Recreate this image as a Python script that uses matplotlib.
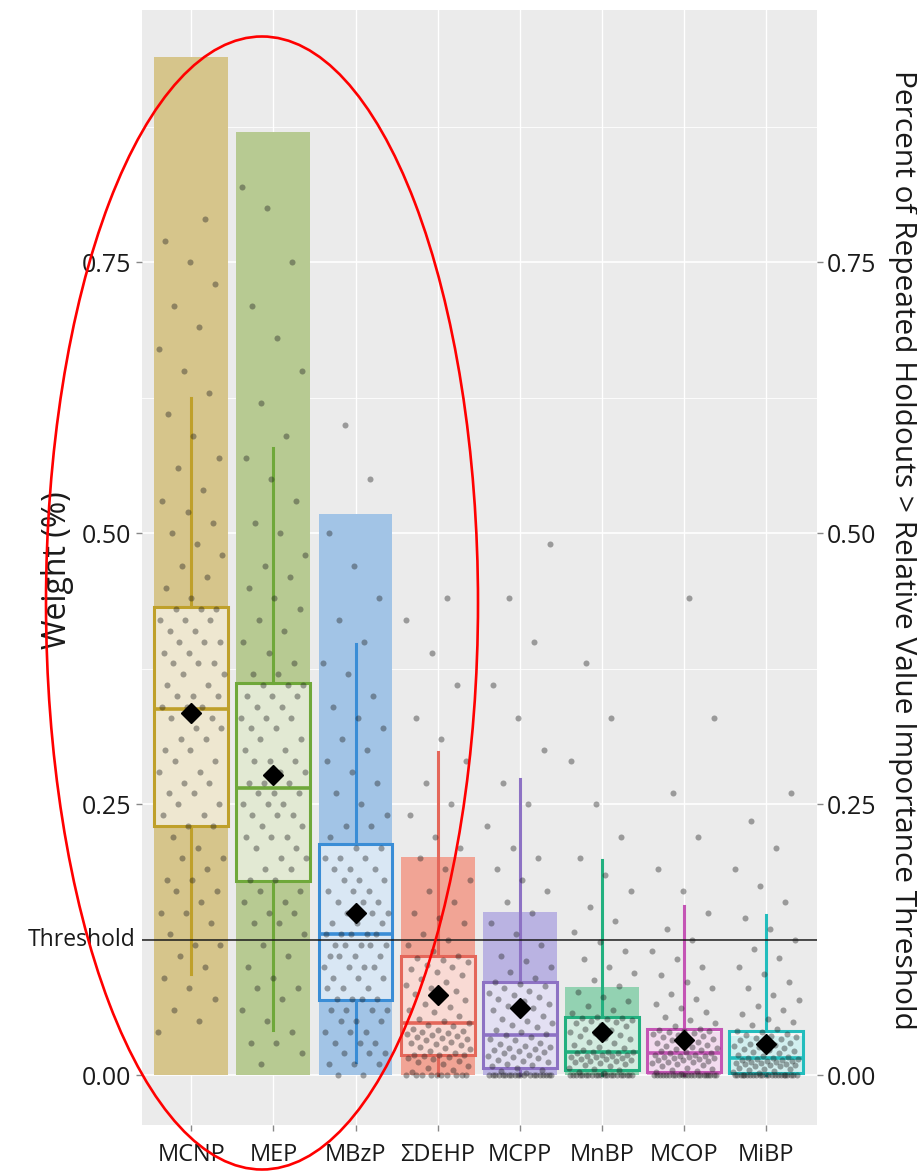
import matplotlib
matplotlib.use("Agg")
import matplotlib.pyplot as plt
import matplotlib.transforms as mtransforms
from matplotlib.patches import Ellipse
import numpy as np

# Categories and summary values
analytes = ["MCNP", "MEP", "MBzP", "ΣDEHP", "MCPP", "MnBP", "MCOP", "MiBP"]
pct_above = [0.94, 0.87, 0.518, 0.201, 0.151, 0.081, 0.040, 0.036]   # bars (right axis)
q1 = [0.230, 0.179, 0.069, 0.019, 0.007, 0.005, 0.003, 0.002]
median = [0.338, 0.265, 0.130, 0.048, 0.037, 0.021, 0.020, 0.016]
q3 = [0.432, 0.362, 0.213, 0.110, 0.086, 0.054, 0.043, 0.041]
whis_lo = [0.093, 0.042, 0.012, 0.0, 0.0, 0.0, 0.0, 0.0]
whis_hi = [0.625, 0.579, 0.398, 0.298, 0.273, 0.199, 0.156, 0.148]
mean = [0.334, 0.277, 0.150, 0.074, 0.062, 0.040, 0.032, 0.029]
threshold = 0.125

# holdout weights (a readable sample of the jittered points)
w_mcnp = [0.04, 0.05, 0.06, 0.07, 0.08, 0.09, 0.10, 0.11, 0.12, 0.12, 0.13, 0.14, 0.15, 0.15, 0.16, 0.17,
          0.17, 0.18, 0.18, 0.19, 0.20, 0.20, 0.21, 0.22, 0.23, 0.23, 0.24, 0.24, 0.25, 0.25, 0.26, 0.26,
          0.27, 0.27, 0.28, 0.28, 0.29, 0.29, 0.30, 0.30, 0.31, 0.31, 0.32, 0.32, 0.33, 0.33, 0.34, 0.34,
          0.34, 0.35, 0.35, 0.35, 0.36, 0.36, 0.37, 0.37, 0.38, 0.38, 0.38, 0.39, 0.39, 0.40, 0.40, 0.40,
          0.41, 0.41, 0.42, 0.42, 0.42, 0.43, 0.43, 0.43, 0.44, 0.45, 0.46, 0.47, 0.48, 0.49, 0.50, 0.51,
          0.52, 0.53, 0.54, 0.56, 0.57, 0.59, 0.61, 0.63, 0.65, 0.67, 0.69, 0.71, 0.73, 0.75, 0.77, 0.79]
w_mep = [0.01, 0.02, 0.03, 0.03, 0.04, 0.05, 0.06, 0.07, 0.08, 0.08, 0.09, 0.10, 0.11, 0.12, 0.13, 0.14,
         0.14, 0.15, 0.15, 0.16, 0.16, 0.17, 0.17, 0.18, 0.18, 0.19, 0.19, 0.20, 0.20, 0.21, 0.21, 0.22,
         0.22, 0.22, 0.23, 0.23, 0.24, 0.24, 0.24, 0.25, 0.25, 0.25, 0.26, 0.26, 0.26, 0.27, 0.27, 0.27,
         0.28, 0.28, 0.29, 0.29, 0.29, 0.30, 0.30, 0.31, 0.31, 0.32, 0.32, 0.33, 0.33, 0.33, 0.34, 0.34,
         0.35, 0.35, 0.35, 0.36, 0.36, 0.36, 0.37, 0.37, 0.38, 0.39, 0.40, 0.41, 0.42, 0.43, 0.44, 0.45,
         0.46, 0.47, 0.48, 0.50, 0.51, 0.53, 0.55, 0.57, 0.59, 0.62, 0.65, 0.68, 0.71, 0.75, 0.80, 0.82]
w_mbzp = [0.00, 0.00, 0.01, 0.01, 0.01, 0.02, 0.02, 0.02, 0.03, 0.03, 0.03, 0.04, 0.04, 0.04, 0.05, 0.05,
          0.05, 0.06, 0.06, 0.06, 0.06, 0.07, 0.07, 0.07, 0.07, 0.08, 0.08, 0.08, 0.09, 0.09, 0.09, 0.10,
          0.10, 0.10, 0.10, 0.11, 0.11, 0.11, 0.11, 0.12, 0.12, 0.12, 0.12, 0.12, 0.13, 0.13, 0.13, 0.13,
          0.13, 0.14, 0.14, 0.14, 0.15, 0.15, 0.15, 0.16, 0.16, 0.16, 0.17, 0.17, 0.17, 0.18, 0.18, 0.18,
          0.19, 0.19, 0.19, 0.20, 0.20, 0.20, 0.21, 0.21, 0.22, 0.23, 0.23, 0.24, 0.25, 0.26, 0.27, 0.28,
          0.29, 0.30, 0.31, 0.32, 0.33, 0.34, 0.35, 0.37, 0.38, 0.40, 0.42, 0.44, 0.47, 0.50, 0.55, 0.60]
w_dehp = [0.0] * 10 + [0.003, 0.005, 0.007, 0.008, 0.010, 0.012,
          0.013, 0.015, 0.016, 0.017, 0.018, 0.019, 0.019, 0.019, 0.020, 0.022, 0.024, 0.025, 0.026, 0.028, 0.029, 0.030,
          0.031, 0.032, 0.033, 0.034, 0.035, 0.036, 0.037, 0.038, 0.039, 0.040, 0.041, 0.042, 0.043, 0.045, 0.046, 0.048,
          0.050, 0.052, 0.055, 0.058, 0.060, 0.063, 0.066, 0.069, 0.072, 0.075, 0.078, 0.080, 0.083, 0.086, 0.089, 0.092,
          0.095, 0.098, 0.100, 0.102, 0.104, 0.106, 0.108, 0.110, 0.115, 0.120, 0.125, 0.130, 0.140, 0.145, 0.150, 0.160,
          0.17, 0.18, 0.19, 0.20, 0.21, 0.22, 0.24, 0.25, 0.27, 0.29, 0.31, 0.33, 0.36, 0.39, 0.42, 0.44]
w_mcpp = [0.0] * 20 + [0.002, 0.004, 0.005, 0.007,
          0.008, 0.009, 0.010, 0.012, 0.013, 0.014, 0.016, 0.017,
          0.018, 0.019, 0.020, 0.021, 0.022, 0.023, 0.024, 0.025, 0.026, 0.027, 0.029, 0.030, 0.032, 0.033, 0.035, 0.037,
          0.038, 0.040, 0.042, 0.044, 0.046, 0.048, 0.050, 0.052, 0.055, 0.058, 0.060, 0.062, 0.064, 0.066, 0.068, 0.070,
          0.072, 0.074, 0.076, 0.078, 0.080, 0.082, 0.084, 0.086, 0.090, 0.095, 0.100, 0.105, 0.110, 0.120, 0.130, 0.140,
          0.15, 0.16, 0.17, 0.18, 0.19, 0.20, 0.21, 0.23, 0.25, 0.27, 0.30, 0.33, 0.36, 0.40, 0.44, 0.49]
w_mnbp = [0.0] * 21 + [0.002, 0.003, 0.005,
          0.006, 0.007, 0.008, 0.009, 0.010, 0.011, 0.012, 0.013,
          0.013, 0.014, 0.015, 0.015, 0.016, 0.017, 0.017, 0.018, 0.018, 0.019, 0.019, 0.020, 0.020, 0.021, 0.021, 0.021,
          0.023, 0.025, 0.026, 0.028, 0.030, 0.031, 0.033, 0.034, 0.036, 0.037, 0.039, 0.040, 0.042, 0.043, 0.045, 0.046,
          0.048, 0.049, 0.050, 0.051, 0.052, 0.053, 0.053, 0.054, 0.057, 0.060, 0.064, 0.068, 0.072, 0.077, 0.082, 0.088,
          0.094, 0.100, 0.107, 0.115, 0.123, 0.132, 0.142, 0.155, 0.17, 0.185, 0.20, 0.22, 0.25, 0.29, 0.33, 0.38]
w_mcop = [0.0] * 22 + [0.001, 0.003,
          0.004, 0.005, 0.006, 0.007, 0.008, 0.009, 0.010, 0.011,
          0.012, 0.012, 0.013, 0.014, 0.014, 0.015, 0.016, 0.016, 0.017, 0.017, 0.018, 0.018, 0.019, 0.019, 0.020, 0.020,
          0.021, 0.022, 0.023, 0.024, 0.025, 0.026, 0.027, 0.028, 0.029, 0.030, 0.031, 0.032, 0.033, 0.034, 0.035, 0.036,
          0.037, 0.038, 0.039, 0.040, 0.041, 0.041, 0.042, 0.043, 0.045, 0.048, 0.051, 0.054, 0.058, 0.062, 0.066, 0.070,
          0.075, 0.080, 0.086, 0.092, 0.100, 0.107, 0.115, 0.125, 0.135, 0.15, 0.17, 0.19, 0.22, 0.26, 0.33, 0.44]
w_mibp = [0.0] * 23 + [0.002,
          0.003, 0.004, 0.005, 0.006, 0.006, 0.007, 0.008, 0.008,
          0.009, 0.009, 0.010, 0.010, 0.011, 0.011, 0.012, 0.012, 0.013, 0.013, 0.014, 0.014, 0.015, 0.015, 0.016, 0.016,
          0.017, 0.018, 0.019, 0.020, 0.021, 0.022, 0.023, 0.024, 0.025, 0.026, 0.027, 0.028, 0.029, 0.030, 0.031, 0.032,
          0.033, 0.034, 0.035, 0.036, 0.037, 0.038, 0.040, 0.041, 0.043, 0.046, 0.049, 0.052, 0.056, 0.060, 0.064, 0.069,
          0.074, 0.080, 0.086, 0.093, 0.100, 0.108, 0.116, 0.125, 0.135, 0.145, 0.16, 0.175, 0.19, 0.21, 0.235, 0.26]
weights = [w_mcnp, w_mep, w_mbzp, w_dehp, w_mcpp, w_mnbp, w_mcop, w_mibp]

bar_colors = ["#D6C58B", "#B7CA92", "#A2C4E6", "#F1A495", "#BAB3E2", "#93D2B2", "#E2A8D8", "#8FD8D8"]
line_colors = ["#BFA02A", "#6FA83A", "#3A8DD6", "#E4675A", "#8D72C4", "#22B07F", "#C455B5", "#22BDBD"]

plt.rcParams["font.family"] = ["Open Sans", "DejaVu Sans"]
text_col = "#1a1a1a"

fig = plt.figure(figsize=(9.17, 11.73), dpi=100)
ax = fig.add_axes([142 / 917, 48 / 1173, 675 / 917, 1115 / 1173])
ax.set_facecolor("#EBEBEB")
for s in ax.spines.values():
    s.set_visible(False)

pos = np.arange(1, len(analytes) + 1)
ax.set_xlim(0.40, 8.62)
ax.set_ylim(-0.046, 0.983)

# grid like ggplot
for y in [0.125, 0.375, 0.625, 0.875]:
    ax.axhline(y, color="white", lw=0.6, zorder=0)
for y in [0, 0.25, 0.5, 0.75]:
    ax.axhline(y, color="white", lw=1.2, zorder=0)
for x in pos:
    ax.axvline(x, color="white", lw=1.0, zorder=0)

# bars
ax.bar(pos, pct_above, width=0.9, color=bar_colors, zorder=1)

# boxplots from the summary values
stats = []
for i in range(len(analytes)):
    stats.append(dict(med=median[i], q1=q1[i], q3=q3[i], whislo=whis_lo[i],
                      whishi=whis_hi[i], mean=mean[i], fliers=[]))
parts = ax.bxp(stats, positions=pos, widths=0.9, patch_artist=True, showmeans=True,
               showfliers=False, showcaps=False, manage_ticks=False,
               meanprops=dict(marker="D", markerfacecolor="black", markeredgecolor="black", markersize=10),
               zorder=2)
for i, c in enumerate(line_colors):
    parts["boxes"][i].set_facecolor((1, 1, 1, 0.6))
    parts["boxes"][i].set_edgecolor(c)
    parts["boxes"][i].set_linewidth(2.2)
    parts["medians"][i].set_color(c)
    parts["medians"][i].set_linewidth(2.6)
    for wl in parts["whiskers"][2 * i:2 * i + 2]:
        wl.set_color(c)
        wl.set_linewidth(2.2)
for m in parts["means"]:
    m.set_zorder(6)

# jittered points
for i, vals in enumerate(weights):
    k = np.arange(len(vals))
    off = ((k * 0.6180339887 + 0.31 * i) % 1.0 - 0.5) * 0.8
    ax.scatter(pos[i] + off, vals, s=19, color="#222222", alpha=0.4, lw=0, zorder=3)

ax.axhline(threshold, color=text_col, lw=1.1, zorder=5)

# axes text
ax.set_xticks(pos)
ax.set_xticklabels(analytes, fontsize=17, color=text_col)
ax.set_yticks([0, 0.25, 0.5, 0.75])
ax.set_yticklabels(["0.00", "0.25", "0.50", "0.75"], fontsize=18, color=text_col)
ax.tick_params(axis="both", length=4, width=1, color="#888888", pad=4)
ax.tick_params(axis="x", pad=9)
trans = mtransforms.blended_transform_factory(ax.transAxes, ax.transData)
ax.text(-0.01, threshold, "Threshold", transform=trans, ha="right", va="center",
        fontsize=16.5, color=text_col)
fig.text(57 / 917, 1 - 570 / 1173, "Weight (%)", rotation=90, ha="center", va="center",
         fontsize=23, color=text_col)

ax2 = ax.twinx()
ax2.set_ylim(ax.get_ylim())
for s in ax2.spines.values():
    s.set_visible(False)
ax2.set_yticks([0, 0.25, 0.5, 0.75])
ax2.set_yticklabels(["0.00", "0.25", "0.50", "0.75"], fontsize=18, color=text_col)
ax2.tick_params(axis="y", length=4, width=1, color="#888888", pad=3)
fig.text(902 / 917, 1 - 550 / 1173,
         "Percent of Repeated Holdouts > Relative Value Importance Threshold",
         rotation=270, ha="center", va="center", fontsize=21.5, color=text_col)

# red ellipse highlighting the first three analytes
fig.add_artist(Ellipse((262 / 917, 1 - 603 / 1173), 432 / 917, 1133 / 1173,
                       transform=fig.transFigure, fill=False, edgecolor="red", lw=1.9, zorder=10))

fig.savefig("out.png", dpi=100)
